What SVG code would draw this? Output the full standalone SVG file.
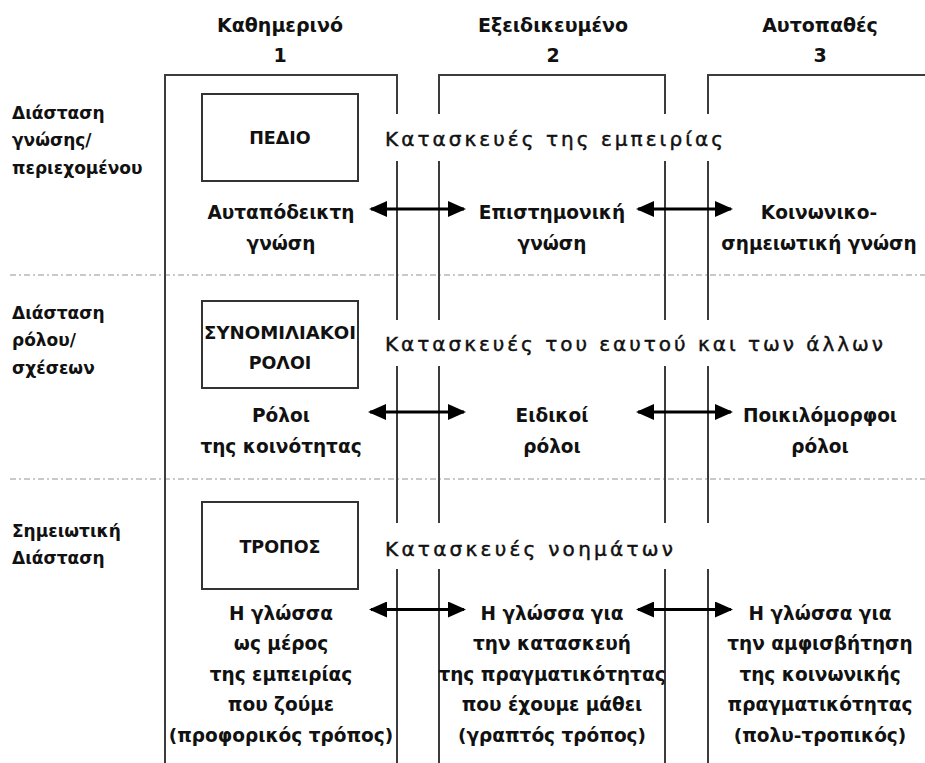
<svg xmlns="http://www.w3.org/2000/svg" width="925" height="763" viewBox="0 0 925 763">
<style>
.bg{fill:#fff}
.frame{fill:none;stroke:#3c3c3c;stroke-width:2}
.box{fill:#fff;stroke:#333;stroke-width:2}
.sep{stroke:#b8b8b8;stroke-width:1.5;stroke-dasharray:6 3 2 3;fill:none}
.t{font-family:"DejaVu Sans","Liberation Sans",sans-serif;font-weight:bold;font-size:18.5px;fill:#111;text-anchor:middle}
.hd{font-size:19px}
.lab{font-size:17px;text-anchor:start}
.bx{font-size:17.5px}
.sp{font-weight:normal;font-size:20px;text-anchor:start;stroke:#111;stroke-width:0.45}
.arr{stroke:#000;stroke-width:3;fill:none;marker-start:url(#ah);marker-end:url(#ah)}
</style>
<defs>
<marker id="ah" markerUnits="userSpaceOnUse" viewBox="0 0 18 16" markerWidth="18" markerHeight="16" refX="16" refY="8" orient="auto-start-reverse">
<path d="M0,0 L18,8 L0,16 Z" fill="#000"/>
</marker>
</defs>
<rect class="bg" x="0" y="0" width="925" height="763"/>

<g id="separators">
<line class="sep" x1="10" y1="275" x2="925" y2="275"/>
<line class="sep" x1="10" y1="479" x2="925" y2="479"/>
</g>

<g id="frames">
<path class="frame" d="M165,763 V75 H397 V114 M397,161 V320 M397,366 V523 M397,569 V763"/>
<path class="frame" d="M439,114 V75 H665 V114 M439,161 V320 M439,366 V523 M439,569 V763 M665,161 V320 M665,366 V523 M665,569 V763"/>
<path class="frame" d="M708,114 V75 H925 M708,161 V320 M708,366 V523 M708,569 V763"/>
</g>

<g id="headers">
<text class="t hd" x="280" y="32">Καθημερινό</text>
<text class="t hd" x="280" y="62">1</text>
<text class="t hd" x="553" y="32">Εξειδικευμένο</text>
<text class="t hd" x="553" y="62">2</text>
<text class="t hd" x="820" y="32">Αυτοπαθές</text>
<text class="t hd" x="820" y="62">3</text>
</g>

<g id="dim-knowledge">
<text class="t lab" x="12" y="118.5">Διάσταση</text>
<text class="t lab" x="12" y="146">γνώσης/</text>
<text class="t lab" x="12" y="173.5">περιεχομένου</text>
</g>
<g id="dim-roles">
<text class="t lab" x="12" y="318.5">Διάσταση</text>
<text class="t lab" x="12" y="346">ρόλου/</text>
<text class="t lab" x="12" y="373.5">σχέσεων</text>
</g>
<g id="dim-semiotic">
<text class="t lab" x="12" y="536.5">Σημειωτική</text>
<text class="t lab" x="12" y="564">Διάσταση</text>
</g>

<g id="box-pedio">
<rect class="box" x="202" y="94" width="156" height="87"/>
<text class="t bx" x="280" y="144">ΠΕΔΙΟ</text>
</g>
<g id="box-roles">
<rect class="box" x="202" y="301" width="156" height="87"/>
<text class="t bx" x="280" y="339" textLength="152" lengthAdjust="spacingAndGlyphs">ΣΥΝΟΜΙΛΙΑΚΟΙ</text>
<text class="t bx" x="280" y="369">ΡΟΛΟΙ</text>
</g>
<g id="box-tropos">
<rect class="box" x="202" y="502" width="156" height="87"/>
<text class="t bx" x="280" y="553">ΤΡΟΠΟΣ</text>
</g>

<g id="title-row1"><text class="t sp" x="385" y="146" textLength="338" lengthAdjust="spacing">Κατασκευές της εμπειρίας</text></g>
<g id="title-row2"><text class="t sp" x="385" y="351" textLength="498" lengthAdjust="spacing">Κατασκευές του εαυτού και των άλλων</text></g>
<g id="title-row3"><text class="t sp" x="385" y="556" textLength="288" lengthAdjust="spacing">Κατασκευές νοημάτων</text></g>

<g id="r1c1"><text class="t" x="281" y="219">Αυταπόδεικτη</text><text class="t" x="281" y="249.5">γνώση</text></g>
<g id="r1c2"><text class="t" x="552" y="219">Επιστημονική</text><text class="t" x="552" y="249.5">γνώση</text></g>
<g id="r1c3"><text class="t" x="819" y="219">Κοινωνικο-</text><text class="t" x="819" y="249.5">σημειωτική γνώση</text></g>

<g id="r2c1"><text class="t" x="281" y="422">Ρόλοι</text><text class="t" x="281" y="452.5">της κοινότητας</text></g>
<g id="r2c2"><text class="t" x="552" y="422">Ειδικοί</text><text class="t" x="552" y="452.5">ρόλοι</text></g>
<g id="r2c3"><text class="t" x="820" y="422">Ποικιλόμορφοι</text><text class="t" x="820" y="452.5">ρόλοι</text></g>

<g id="r3c1">
<text class="t" x="281" y="619.5">Η γλώσσα</text>
<text class="t" x="281" y="650">ως μέρος</text>
<text class="t" x="281" y="680.5">της εμπειρίας</text>
<text class="t" x="281" y="711">που ζούμε</text>
<text class="t" x="281" y="741.5">(προφορικός τρόπος)</text>
</g>
<g id="r3c2">
<text class="t" x="552" y="619.5">Η γλώσσα για</text>
<text class="t" x="552" y="650">την κατασκευή</text>
<text class="t" x="552" y="680.5">της πραγματικότητας</text>
<text class="t" x="552" y="711">που έχουμε μάθει</text>
<text class="t" x="552" y="741.5">(γραπτός τρόπος)</text>
</g>
<g id="r3c3">
<text class="t" x="820" y="619.5">Η γλώσσα για</text>
<text class="t" x="820" y="650">την αμφισβήτηση</text>
<text class="t" x="820" y="680.5">της κοινωνικής</text>
<text class="t" x="820" y="711">πραγματικότητας</text>
<text class="t" x="820" y="741.5">(πολυ-τροπικός)</text>
</g>

<g id="connectors">
<line class="arr" x1="371" y1="209" x2="464" y2="209"/>
<line class="arr" x1="638" y1="209" x2="731" y2="209"/>
<line class="arr" x1="370" y1="412" x2="464" y2="412"/>
<line class="arr" x1="638" y1="412" x2="731" y2="412"/>
<line class="arr" x1="371" y1="609.5" x2="464" y2="609.5"/>
<line class="arr" x1="638" y1="609.5" x2="731" y2="609.5"/>
</g>
</svg>
